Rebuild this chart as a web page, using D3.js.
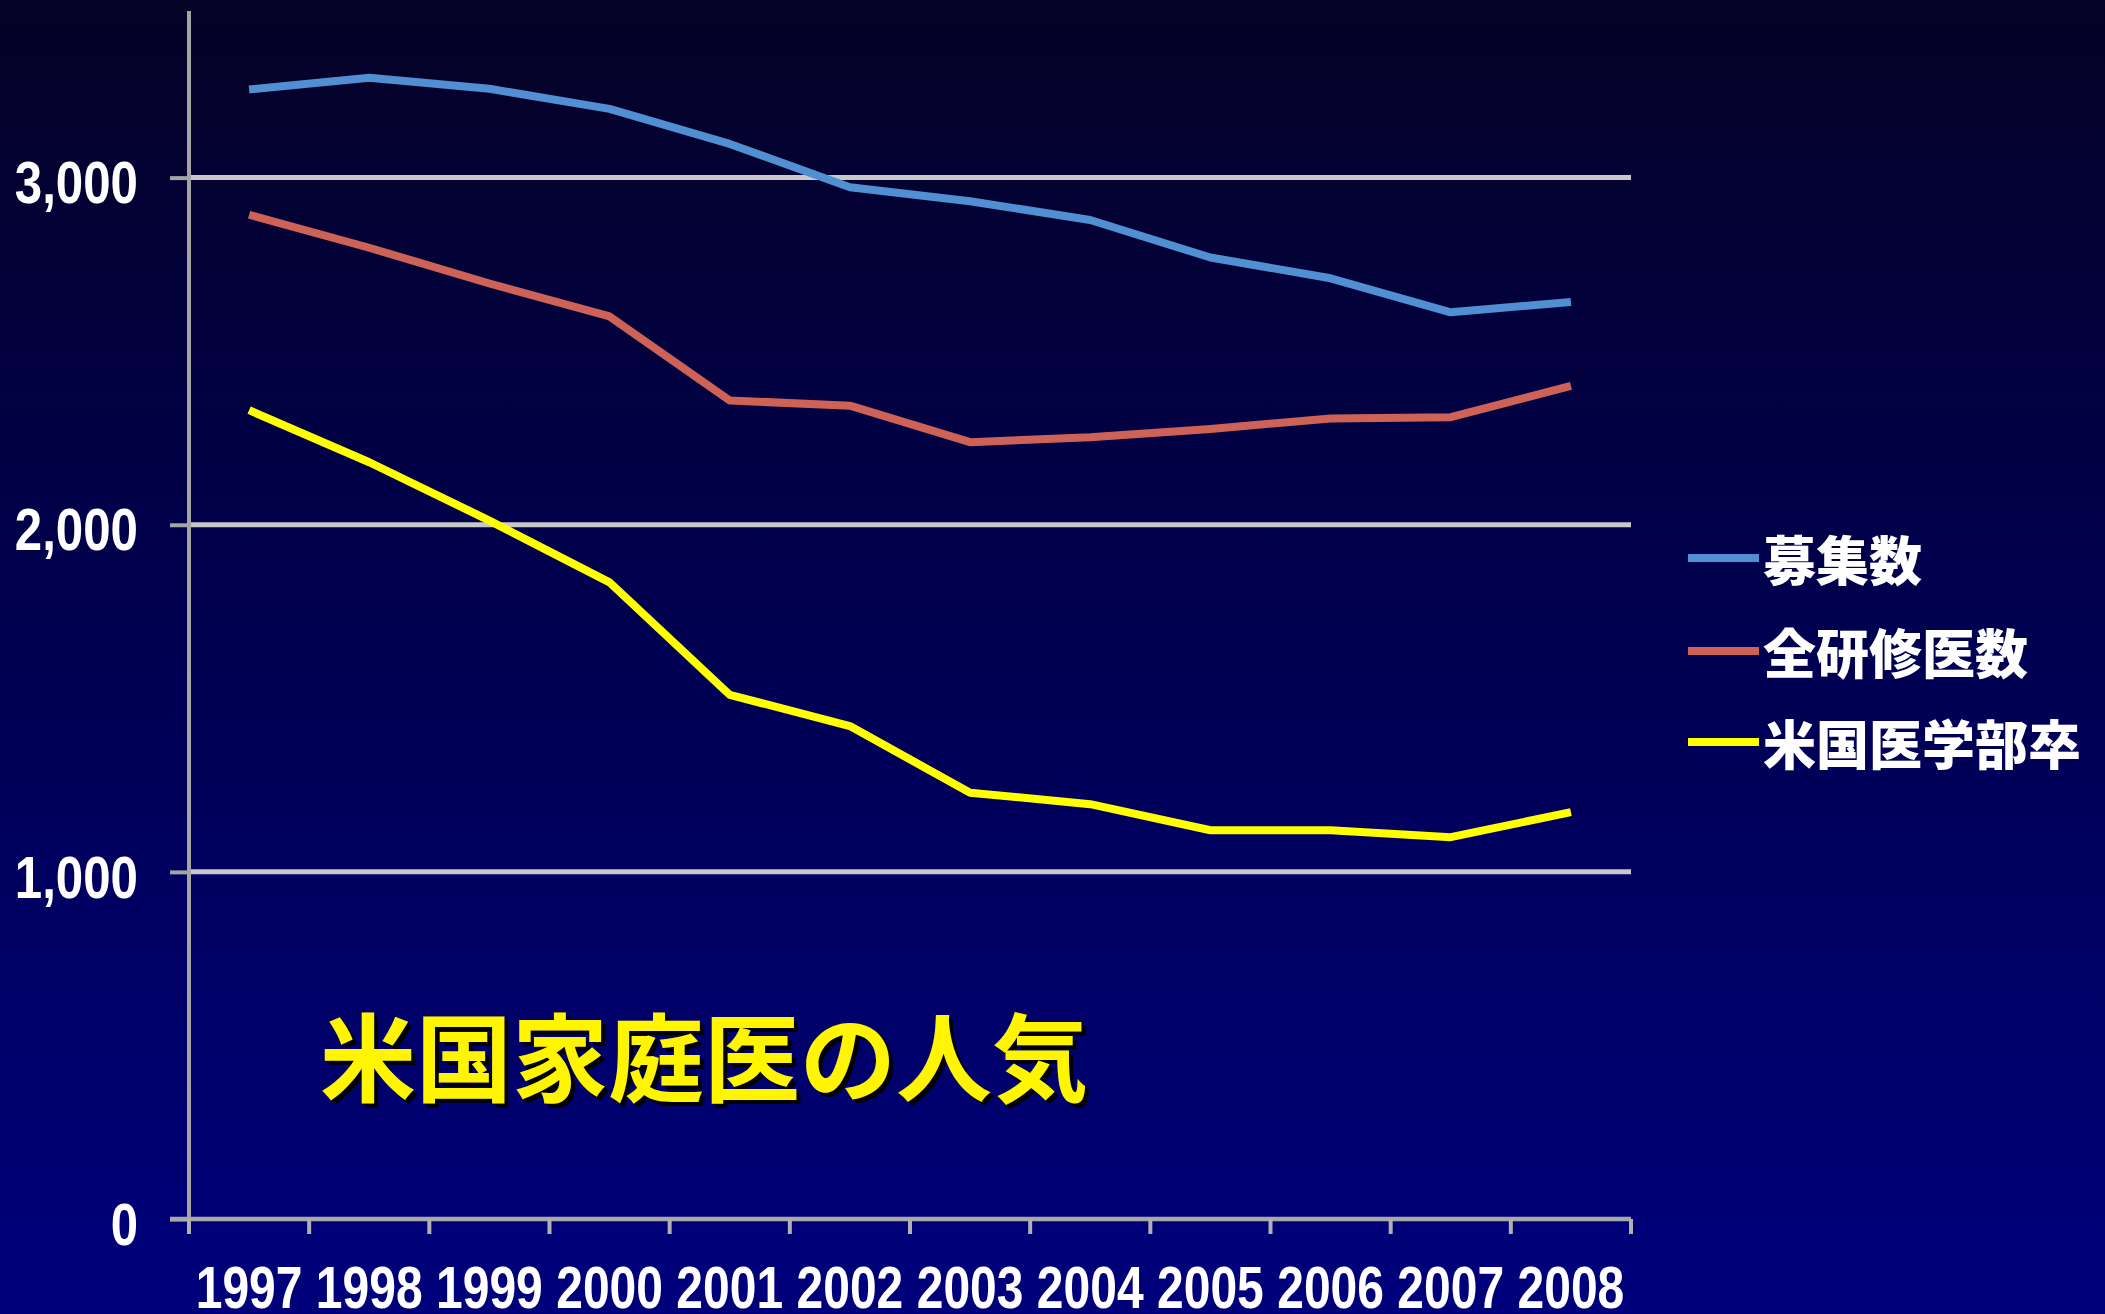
<!DOCTYPE html>
<html>
<head>
<meta charset="utf-8">
<script src="https://cdn.jsdelivr.net/npm/d3@7"></script>
<style>
  html, body { margin: 0; padding: 0; background: #000060; }
  svg { display: block; }
</style>
</head>
<body>
<svg id="chart" width="2105" height="1314"></svg>
<script>
// Family medicine residency in the US, 1997-2008
const years = ["1997","1998","1999","2000","2001","2002","2003","2004","2005","2006","2007","2008"];
const positions   = [3254, 3288, 3256, 3198, 3097, 2972, 2932, 2878, 2770, 2710, 2612, 2642]; // 募集数
const allMatched  = [2893, 2798, 2695, 2600, 2358, 2343, 2238, 2252, 2276, 2306, 2310, 2400]; // 全研修医数
const usGrads     = [2330, 2180, 2012, 1834, 1510, 1420, 1228, 1195, 1120, 1120, 1100, 1172]; // 米国医学部卒
const seriesNames = ["募集数", "全研修医数", "米国医学部卒"];
const seriesColors = ["#4f8fd2", "#cf6257", "#ffff00"];
const yTicks = [0, 1000, 2000, 3000];
const yMax = 3480;
const title = "米国家庭医の人気";

const series = [positions, allMatched, usGrads];

const svg = d3.select("#chart");
const W = 2105, H = 1314;

// background
const defs = svg.append("defs");
const grad = defs.append("linearGradient").attr("id", "bg")
  .attr("x1", 0).attr("y1", 0).attr("x2", 0).attr("y2", 1);
grad.append("stop").attr("offset", "0%").attr("stop-color", "#050226");
grad.append("stop").attr("offset", "45%").attr("stop-color", "#00004e");
grad.append("stop").attr("offset", "100%").attr("stop-color", "#00007c");
svg.append("rect").attr("width", W).attr("height", H).attr("fill", "url(#bg)");

const plot = { left: 189, right: 1631, top: 11, bottom: 1219 };

const x = d3.scaleBand().domain(years).range([plot.left, plot.right]).padding(0);
const y = d3.scaleLinear().domain([0, yMax]).range([plot.bottom, plot.top]);

const numFont = "'Liberation Sans', Arial, sans-serif";
const cjkFont = "'Noto Sans CJK JP', 'Noto Sans CJK SC', sans-serif";
const digitW = 26.7;   // condensed digit advance
const fmt = d3.format(",");

// horizontal gridlines
svg.append("g")
  .selectAll("line")
  .data(yTicks.filter(d => d > 0))
  .join("line")
  .attr("x1", plot.left).attr("x2", plot.right)
  .attr("y1", d => y(d)).attr("y2", d => y(d))
  .attr("stroke", "#c8c8c8").attr("stroke-width", 5);

// y axis
const yAxis = svg.append("g")
  .attr("transform", `translate(${plot.left},0)`)
  .call(d3.axisLeft(y).tickValues(yTicks).tickFormat(fmt).tickSize(19).tickPadding(32));
yAxis.select(".domain").attr("stroke", "#a4a4a4").attr("stroke-width", 4)
  .attr("d", `M0,${plot.top}V${plot.bottom}`);
yAxis.selectAll(".tick line").attr("stroke", "#a4a4a4").attr("stroke-width", 4);
yAxis.selectAll(".tick text")
  .attr("fill", "#ffffff")
  .attr("font-family", numFont)
  .attr("font-weight", "bold")
  .attr("font-size", 60)
  .attr("dy", "0.42em")
  .attr("lengthAdjust", "spacingAndGlyphs")
  .attr("textLength", d => {
    const s = fmt(d);
    return s.replace(/,/g, "").length * 27.3 + (s.includes(",") ? 14 : 0);
  });

// x axis: line, boundary ticks and year labels
const xg = svg.append("g");
xg.append("line")
  .attr("x1", plot.left - 19).attr("x2", plot.right)
  .attr("y1", plot.bottom).attr("y2", plot.bottom)
  .attr("stroke", "#a8a8a8").attr("stroke-width", 4.5);
const bounds = years.map(d => x(d)).concat([x.range()[1]]);
xg.selectAll("line.bt")
  .data(bounds)
  .join("line").attr("class", "bt")
  .attr("x1", d => d).attr("x2", d => d)
  .attr("y1", plot.bottom).attr("y2", plot.bottom + 15)
  .attr("stroke", "#b0b0b0").attr("stroke-width", 4);

const xAxis = svg.append("g")
  .attr("transform", `translate(0,${plot.bottom})`)
  .call(d3.axisBottom(x).tickSize(0).tickPadding(47));
xAxis.select(".domain").remove();
xAxis.selectAll(".tick text")
  .attr("fill", "#ffffff")
  .attr("font-family", numFont)
  .attr("font-weight", "bold")
  .attr("font-size", 59)
  .attr("lengthAdjust", "spacingAndGlyphs")
  .attr("textLength", d => d.length * digitW);

// series lines
const line = d3.line()
  .x((d, i) => x(years[i]) + x.bandwidth() / 2)
  .y(d => y(d));

svg.append("g")
  .selectAll("path")
  .data(series)
  .join("path")
  .attr("d", d => line(d))
  .attr("fill", "none")
  .attr("stroke", (d, i) => seriesColors[i])
  .attr("stroke-width", 8)
  .attr("stroke-linejoin", "round");

// legend
const legendY = [558, 651, 742];
const lg = svg.append("g");
const items = lg.selectAll("g").data(seriesNames).join("g")
  .attr("transform", (d, i) => `translate(1688,${legendY[i]})`);
items.append("line")
  .attr("x1", 0).attr("x2", 71).attr("y1", 0).attr("y2", 0)
  .attr("stroke", (d, i) => seriesColors[i])
  .attr("stroke-width", 8);
items.append("text")
  .attr("x", 75).attr("y", 0)
  .attr("dominant-baseline", "central")
  .attr("fill", "#ffffff")
  .attr("font-family", cjkFont)
  .attr("font-weight", 900)
  .attr("font-size", 53)
  .text(d => d);

// title with drop shadow
const tg = svg.append("g");
[["#000000", 4], ["#fff500", 0]].forEach(([c, o]) => {
  tg.append("text")
    .attr("x", 320 + o).attr("y", 1052 + o)
    .attr("dominant-baseline", "central")
    .attr("fill", c)
    .attr("font-family", cjkFont)
    .attr("font-weight", 700)
    .attr("font-size", 96)
    .text(title);
});
</script>
</body>
</html>
